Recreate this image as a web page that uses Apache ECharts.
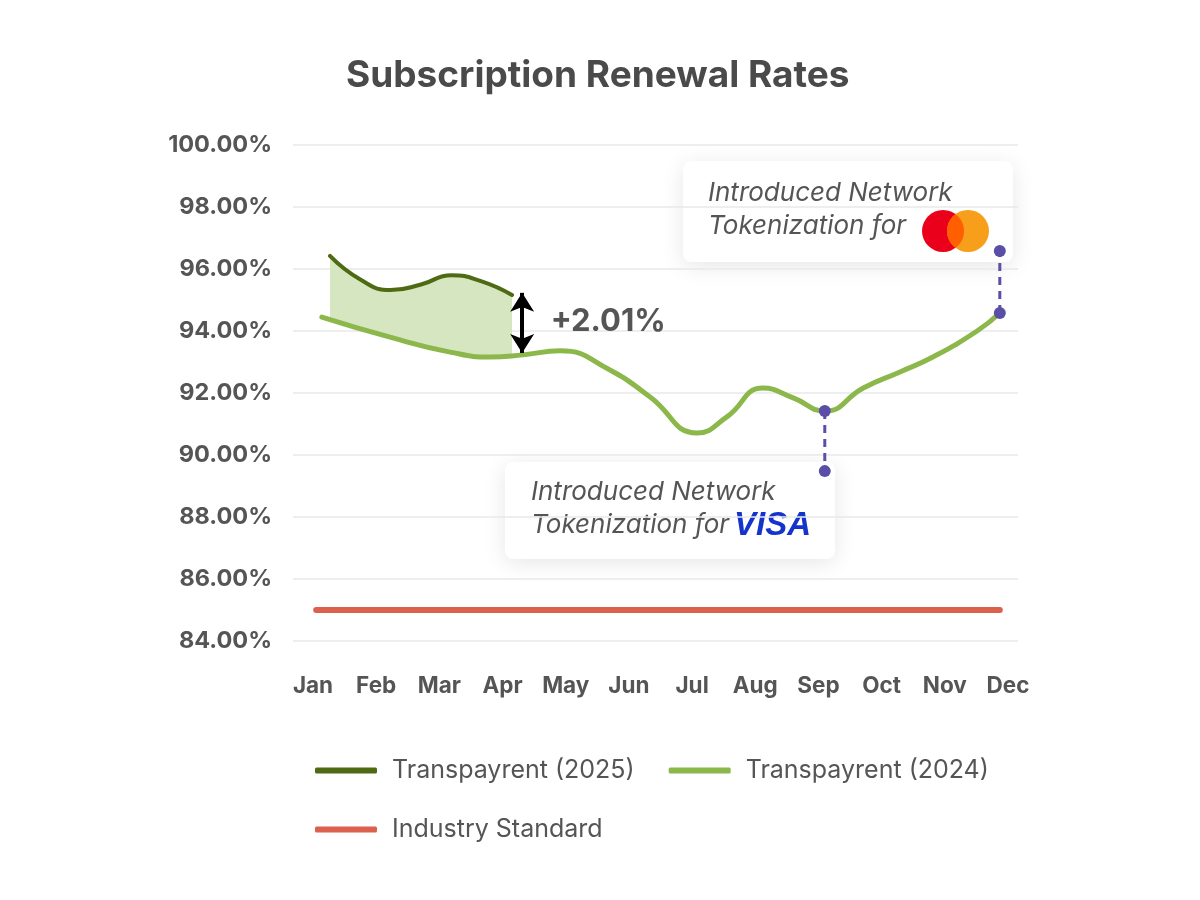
<!DOCTYPE html>
<html>
<head>
<meta charset="utf-8">
<title>Subscription Renewal Rates</title>
<script src="https://cdn.jsdelivr.net/npm/echarts@6/dist/echarts.min.js"></script>
<style>
  html, body { margin: 0; padding: 0; background: #fff; }
  #chart { width: 1200px; height: 900px; }
</style>
</head>
<body>
<div id="chart"></div>
<script>
// month axis: 0 = Jan ... 11 = Dec
var months = ['Jan', 'Feb', 'Mar', 'Apr', 'May', 'Jun', 'Jul', 'Aug', 'Sep', 'Oct', 'Nov', 'Dec'];
var monthTicks = [0, 1, 2, 3, 4, 5, 6, 7, 8, 9, 10, 11];

// Transpayrent (2024), [month position, %]
var renew2024 = [
  [0.14, 94.45], [1.22, 93.80], [2.17, 93.32], [2.80, 93.16], [3.32, 93.23],
  [3.91, 93.36], [4.70, 92.74], [5.33, 91.88], [6.08, 90.71], [6.55, 91.23],
  [7.12, 92.16], [7.60, 91.84], [8.10, 91.42], [8.71, 92.16], [9.29, 92.68],
  [9.81, 93.16], [10.51, 94.00], [10.87, 94.58]
];

// Jan..Apr band (evenly spaced samples): 2025 line and 2024 line under it
var bandSteps = ['s0', 's1', 's2', 's3', 's4', 's5', 's6'];
var renew2025 = [96.42, 95.66, 95.32, 95.50, 95.80, 95.60, 95.16];
var renew2024Band = [94.35, 94.08, 93.80, 93.55, 93.32, 93.19, 93.16];

var industryStandard = [[0.05, 85], [10.87, 85]];

// annotations
var gapArrow = [[3.31, 95.23], [3.31, 93.29]];
var gapLabel = [[3.31, 94.29, '+2.01%']];
var visaMarker = [[8.10, 91.42], [8.10, 89.48]];
var mcMarker = [[10.87, 94.58], [10.87, 96.58]];

var yTicks = { min: 84, max: 100, step: 2 };

var bandDiff = renew2025.map(function (v, i) { return +(v - renew2024Band[i]).toFixed(2); });

// overlap of the two logo circles (lens shape)
function lensPoints(cx1, cx2, cy, r) {
  var pts = [];
  var half = Math.acos((cx2 - cx1) / 2 / r);
  var n = 24, i, a;
  for (i = 0; i <= n; i++) { // right side of the left circle
    a = -half + (2 * half) * i / n;
    pts.push([cx1 + r * Math.cos(a), cy + r * Math.sin(a)]);
  }
  for (i = 0; i <= n; i++) { // left side of the right circle
    a = Math.PI - half + (2 * half) * i / n;
    pts.push([cx2 + r * Math.cos(a), cy + r * Math.sin(a)]);
  }
  return pts;
}

var myChart = echarts.init(document.getElementById('chart'));

var labelGrey = '#555555';
var purple = '#5b4ea6';
var noteFont = 'italic 26px Inter';

var option = {
  backgroundColor: '#ffffff',
  animation: false,
  title: {
    text: 'Subscription Renewal Rates',
    left: 341,
    top: 52,
    textStyle: { fontFamily: 'Inter', fontSize: 37, fontWeight: 'bold', color: '#4a4a4a' }
  },
  legend: {
    data: ['Transpayrent (2025)', 'Transpayrent (2024)', 'Industry Standard'],
    left: 310,
    top: 753,
    width: 760,
    icon: 'roundRect',
    itemWidth: 62,
    itemHeight: 6,
    itemGap: 34,
    textStyle: {
      fontFamily: 'Inter', fontSize: 25, color: labelGrey,
      lineHeight: 24, padding: [0, 0, 0, 10]
    }
  },
  grid: [
    { left: 293, right: 182, top: 145, bottom: 259 },
    { left: 330, width: 182, top: 145, bottom: 259 }
  ],
  xAxis: [
    {
      type: 'value',
      gridIndex: 0,
      min: -0.3166,
      max: 11.158,
      axisLine: { show: false },
      axisTick: { show: false },
      splitLine: { show: false },
      axisLabel: {
        customValues: monthTicks,
        formatter: function (v) { return months[Math.round(v)]; },
        margin: 34,
        fontFamily: 'Inter', fontSize: 22.5, fontWeight: 'bold', color: labelGrey
      }
    },
    {
      type: 'category',
      gridIndex: 1,
      data: bandSteps,
      boundaryGap: false,
      show: false
    }
  ],
  yAxis: [
    {
      type: 'value',
      gridIndex: 0,
      min: yTicks.min,
      max: yTicks.max,
      interval: yTicks.step,
      axisLine: { show: false },
      axisTick: { show: false },
      splitLine: { lineStyle: { color: '#e8e8e8', width: 1.5 } },
      axisLabel: {
        formatter: function (v) { return v.toFixed(2) + '%'; },
        margin: 21,
        fontFamily: 'Inter', fontSize: 23.5, fontWeight: 'bold', color: labelGrey
      }
    },
    {
      type: 'value',
      gridIndex: 1,
      min: yTicks.min,
      max: yTicks.max,
      show: false
    }
  ],
  series: [
    {
      name: 'Industry Standard',
      type: 'line',
      xAxisIndex: 0, yAxisIndex: 0,
      data: industryStandard,
      color: '#dc614d',
      symbol: 'none',
      lineStyle: { width: 6, color: '#dc614d', cap: 'round' },
      z: 2
    },
    {
      name: 'band base',
      type: 'line',
      xAxisIndex: 1, yAxisIndex: 1,
      data: renew2024Band,
      stack: 'band',
      smooth: true,
      symbol: 'none',
      lineStyle: { width: 0, opacity: 0 },
      silent: true,
      z: 2
    },
    {
      name: 'band',
      type: 'line',
      xAxisIndex: 1, yAxisIndex: 1,
      data: bandDiff,
      stack: 'band',
      smooth: true,
      symbol: 'none',
      lineStyle: { width: 0, opacity: 0 },
      areaStyle: { color: '#d6e6c0', opacity: 1 },
      silent: true,
      z: 2
    },
    {
      name: 'Transpayrent (2024)',
      type: 'line',
      xAxisIndex: 0, yAxisIndex: 0,
      data: renew2024,
      color: '#8cb84b',
      smooth: true,
      symbol: 'none',
      lineStyle: { width: 5, color: '#8cb84b', cap: 'round' },
      z: 3
    },
    {
      name: 'Transpayrent (2025)',
      type: 'line',
      xAxisIndex: 1, yAxisIndex: 1,
      data: renew2025,
      color: '#4e6b14',
      smooth: true,
      symbol: 'none',
      lineStyle: { width: 4, color: '#4e6b14', cap: 'round' },
      z: 4
    },
    {
      name: 'gap',
      type: 'line',
      xAxisIndex: 0, yAxisIndex: 0,
      data: [],
      symbol: 'none',
      markLine: {
        silent: true,
        symbol: ['arrow', 'arrow'],
        symbolSize: [18, 19],
        label: { show: false },
        lineStyle: { color: '#000000', width: 4, type: 'solid' },
        data: [[{ coord: gapArrow[0] }, { coord: gapArrow[1] }]]
      },
      z: 5
    },
    {
      name: 'gap label',
      type: 'scatter',
      xAxisIndex: 0, yAxisIndex: 0,
      data: gapLabel,
      symbolSize: 1,
      itemStyle: { color: 'rgba(0,0,0,0)', opacity: 1 },
      label: {
        show: true,
        position: 'right',
        distance: 28,
        formatter: function (p) { return p.value[2]; },
        fontFamily: 'Inter', fontSize: 31, fontWeight: 'bold', color: labelGrey
      },
      silent: true,
      z: 5
    },
    {
      name: 'visa marker',
      type: 'line',
      xAxisIndex: 0, yAxisIndex: 0,
      data: visaMarker,
      symbol: 'circle',
      symbolSize: 12,
      itemStyle: { color: purple },
      lineStyle: { color: purple, width: 3, type: [8, 6] },
      silent: true,
      z: 6
    },
    {
      name: 'mc marker',
      type: 'line',
      xAxisIndex: 0, yAxisIndex: 0,
      data: mcMarker,
      symbol: 'circle',
      symbolSize: 12,
      itemStyle: { color: purple },
      lineStyle: { color: purple, width: 3, type: [8, 6] },
      silent: true,
      z: 6
    }
  ],
  graphic: [
    // Mastercard note
    {
      type: 'group',
      z: 1,
      children: [
        {
          type: 'rect',
          shape: { x: 683, y: 161, width: 330, height: 101, r: 8 },
          style: { fill: '#ffffff', shadowBlur: 22, shadowColor: 'rgba(0,0,0,0.10)', shadowOffsetY: 4 }
        },
        {
          type: 'text',
          style: { x: 708, y: 193, text: 'Introduced Network', verticalAlign: 'middle', font: noteFont, fill: labelGrey }
        },
        {
          type: 'text',
          style: { x: 708, y: 226, text: 'Tokenization for', verticalAlign: 'middle', font: noteFont, fill: labelGrey }
        },
        { type: 'circle', shape: { cx: 943, cy: 231, r: 21 }, style: { fill: '#eb001b' } },
        { type: 'circle', shape: { cx: 968, cy: 231, r: 21 }, style: { fill: '#f79e1b' } },
        { type: 'polygon', shape: { points: lensPoints(943, 968, 231, 21) }, style: { fill: '#ff5f00' } }
      ]
    },
    // Visa note
    {
      type: 'group',
      z: 1,
      children: [
        {
          type: 'rect',
          shape: { x: 505, y: 462, width: 330, height: 97, r: 8 },
          style: { fill: '#ffffff', shadowBlur: 22, shadowColor: 'rgba(0,0,0,0.10)', shadowOffsetY: 4 }
        },
        {
          type: 'text',
          style: { x: 531, y: 492, text: 'Introduced Network', verticalAlign: 'middle', font: noteFont, fill: labelGrey }
        },
        {
          type: 'text',
          style: { x: 531, y: 525, text: 'Tokenization for', verticalAlign: 'middle', font: noteFont, fill: labelGrey }
        },
        {
          type: 'text',
          style: {
            x: 734, y: 526, text: 'VISA', verticalAlign: 'middle',
            font: 'italic 900 33px "Liberation Sans"', fill: '#1434cb'
          }
        }
      ]
    }
  ]
};

myChart.setOption(option);
</script>
</body>
</html>
